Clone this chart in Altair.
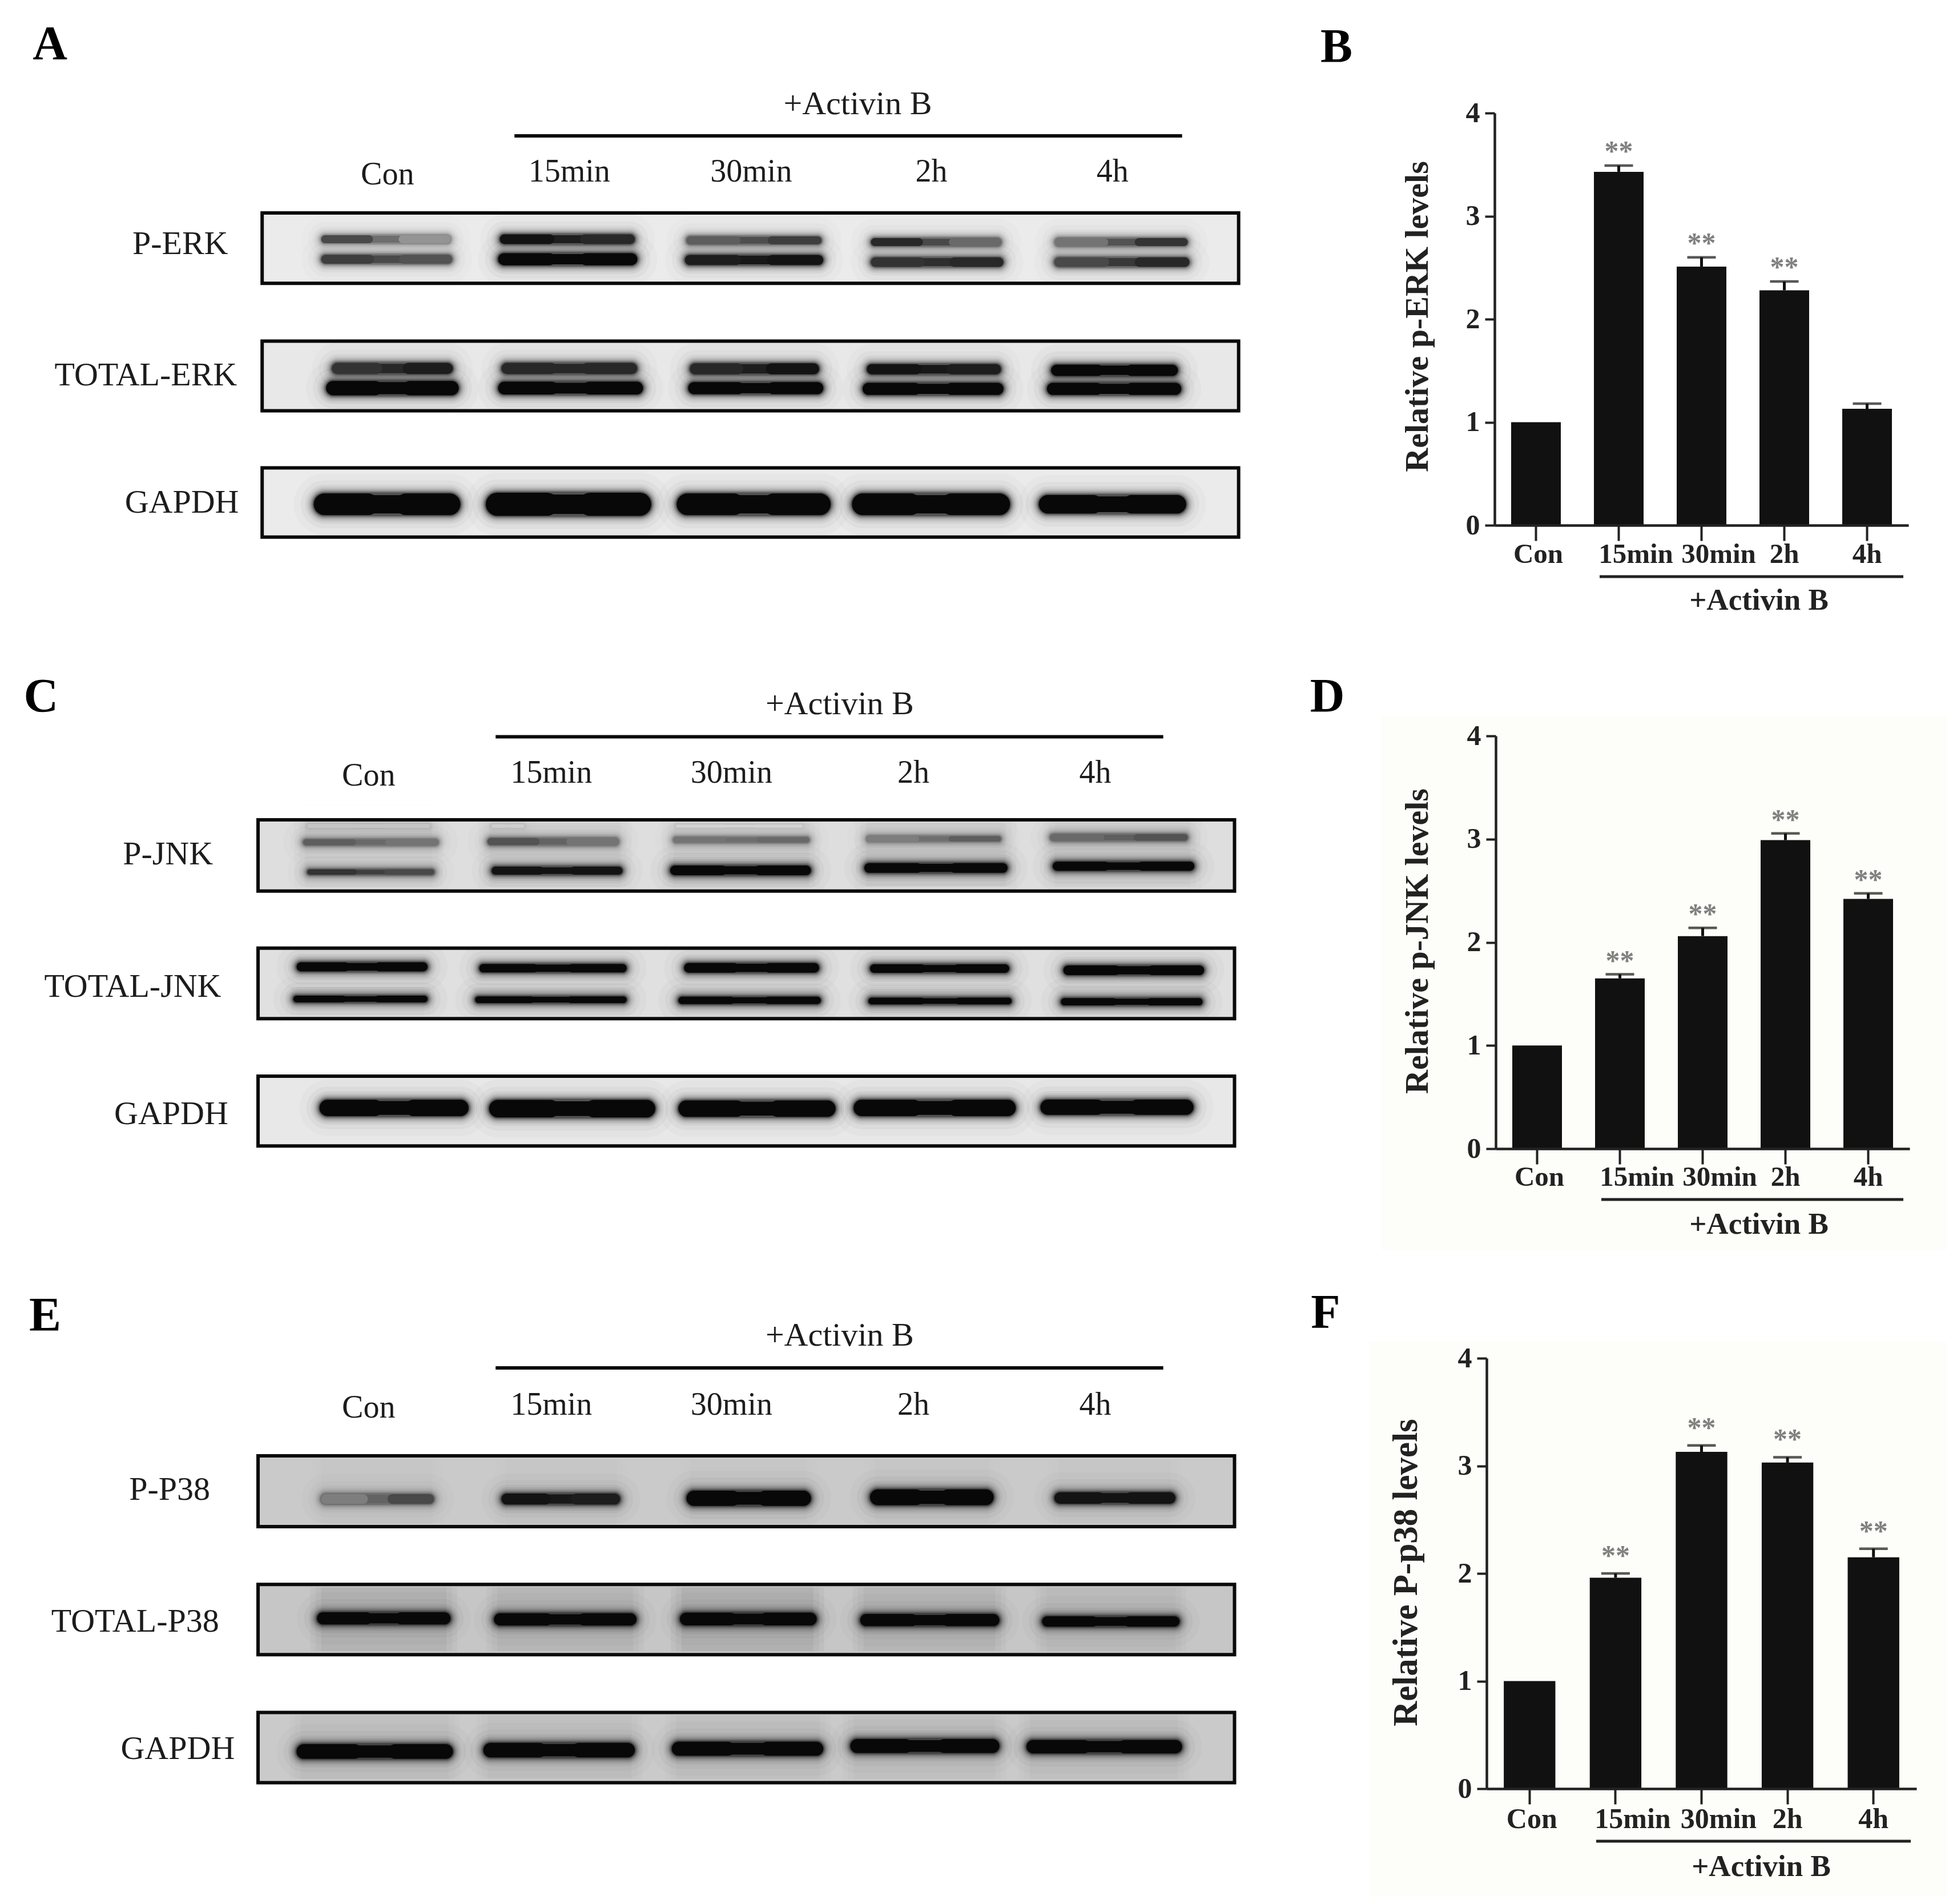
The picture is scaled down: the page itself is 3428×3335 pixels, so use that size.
import altair as alt
import pandas as pd

FONT = "Liberation Serif"
LANES = ["Con", "15min", "30min", "2h", "4h"]

# ---------- bar chart values ----------
B_MEAN = [1.0, 3.43, 2.51, 2.28, 1.13]
B_CAP = [1.0, 3.49, 2.60, 2.365, 1.18]
B_STAR = ["", "**", "**", "**", ""]
D_MEAN = [1.0, 1.65, 2.06, 2.99, 2.42]
D_CAP = [1.0, 1.69, 2.14, 3.055, 2.475]
D_STAR = ["", "**", "**", "**", "**"]
F_MEAN = [1.0, 1.96, 3.13, 3.03, 2.15]
F_CAP = [1.0, 2.0, 3.19, 3.08, 2.23]
F_STAR = ["", "**", "**", "**", "**"]
LABEL_SHIFT = [4, 30, 30, 0, 0]
TITLE_SIZE = [58, 58, 61]

# ---------- blot bands: left, right, centre y, thickness, left and right darkness ----------
A_PERK_UP = [(392,550,657,25,.7,.35),(610,775,657,30,.95,.85),(838,1003,660,25,.6,.75),(1063,1222,665,25,.85,.55),(1288,1450,665,25,.5,.8)]
A_PERK_LO = [(392,552,712,28,.75,.65),(608,778,712,38,1,1),(836,1005,714,32,.9,.95),(1063,1225,720,30,.8,.85),(1287,1452,720,30,.7,.85)]
A_TERK_UP = [(405,553,1012,35,.8,.9),(612,778,1012,35,.85,.85),(842,1000,1013,35,.85,.95),(1058,1222,1014,32,.95,.9),(1283,1438,1017,35,1,1)]
A_TERK_LO = [(398,560,1066,45,1,1),(608,785,1066,40,1,1),(840,1005,1066,38,1,1),(1053,1225,1068,38,1,1),(1278,1442,1068,38,1,1)]
A_GAPDH = [(383,562,1385,68,1,1),(593,795,1385,72,1,1),(826,1014,1385,68,1,1),(1040,1233,1385,68,1,1),(1268,1448,1385,58,1,1)]

C_PJNK_TOP = [(375,525,490,14,.12,.12),(600,640,490,12,.08,.08),(825,980,490,10,.05,.05)]
C_PJNK_UP = [(370,535,537,20,.6,.5),(595,755,535,24,.65,.5),(822,988,530,18,.5,.55),(1058,1222,527,18,.45,.6),(1282,1450,523,22,.55,.65)]
C_PJNK_LO = [(375,530,623,18,.8,.7),(600,760,619,26,.95,.95),(818,990,618,32,1,1),(1055,1230,611,32,1,1),(1285,1458,606,30,1,1)]
C_TJNK_UP = [(362,522,897,30,1,1),(585,765,901,28,1,1),(835,1000,900,32,1,1),(1062,1232,902,28,1,1),(1298,1470,907,32,1,1)]
C_TJNK_LO = [(358,522,990,22,1,1),(580,765,992,22,1,1),(828,1002,994,24,1,1),(1060,1235,996,22,1,1),(1295,1468,998,24,1,1)]
C_GAPDH = [(390,572,1305,54,1,1),(597,800,1307,58,1,1),(828,1020,1307,54,1,1),(1042,1240,1305,54,1,1),(1270,1457,1303,50,1,1)]

E_PP38 = [(392,530,620,32,.45,.7),(612,757,620,36,.95,.9),(838,990,618,50,1,1),(1062,1213,615,52,1,1),(1287,1435,617,38,.95,.95)]
E_TP38 = [(387,550,965,40,1,1),(603,777,968,40,1,1),(830,997,967,42,1,1),(1050,1220,970,40,1,1),(1272,1440,974,34,1,1)]
E_GAPDH = [(362,553,1350,48,1,1),(590,775,1346,48,1,1),(820,1005,1342,46,1,1),(1038,1220,1334,46,1,1),(1253,1443,1336,44,1,1)]

# lane smears: left, right, top, bottom, opacity
C_SMEAR = [(365,535,480,665,.035),(590,765,480,665,.035),(815,995,480,665,.035),(1050,1235,480,665,.05),(1280,1460,480,665,.04),
           (355,525,955,1035,.03),(578,770,955,1035,.03),(825,1005,955,1035,.03),(1055,1240,955,1035,.03),(1290,1472,955,1035,.03)]
E_SMEAR = [(385,552,875,1060,.09),(600,780,875,1060,.08),(825,1000,875,1060,.1),(1047,1222,875,1060,.08),(1270,1442,875,1060,.05),
           (360,555,1245,1430,.035),(588,778,1245,1430,.035),(818,1008,1245,1430,.035),(1035,1222,1245,1430,.035),(1250,1445,1245,1430,.035),
           (385,535,505,690,.015),(610,760,505,690,.015),(835,992,505,690,.015),(1060,1215,505,690,.015),(1285,1437,505,690,.015)]

# strips: top, bottom, background
A_STRIPS = [(585,778,"#ebebeb"),(937,1128,"#e8e8e8"),(1285,1475,"#ebebeb")]
C_STRIPS = [(472,678,"#dedede"),(843,1047,"#e0e0e0"),(1213,1415,"#e8e8e8")]
E_STRIPS = [(495,700,"#cacaca"),(867,1070,"#c6c6c6"),(1237,1440,"#cacaca")]
A_FRAME_X = (320, 1512)
CE_FRAME_X = (315, 1507)

# text: string, x centre, baseline y
A_LABELS = [("+Activin B",1047,313),("Con",473,507),("15min",695,498),("30min",917,498),("2h",1137,498),("4h",1358,498),
            ("P-ERK",220,698),("TOTAL-ERK",178,1058),("GAPDH",222,1408)]
C_LABELS = [("+Activin B",1025,167),("Con",450,373),("15min",673,365),("30min",893,365),("2h",1115,365),("4h",1337,365),
            ("P-JNK",205,601),("TOTAL-JNK",162,983),("GAPDH",209,1351)]
E_LABELS = [("+Activin B",1025,177),("Con",450,385),("15min",673,377),("30min",893,377),("2h",1115,377),("4h",1337,377),
            ("P-P38",207,622),("TOTAL-P38",165,1003),("GAPDH",217,1371)]

FX = 2250 / 1568
COL_X = [8, 2288]
COL_W = [2280, 1132]
ROW_Y = [8, 1130, 2230]
ROW_H = [1122, 1100, 1097]

# soft edge of a band: extra width in px, opacity
SOFT = [(70, .018), (46, .03), (30, .05), (22, .07), (16, .10), (11, .14), (7, .20), (3.5, .30)]


def grey(d):
    v = int(round(8 + (1 - d) * 215))
    return f"#{v:02x}{v:02x}{v:02x}"


def band_rows(bands, fy):
    rows = []
    for extra, alpha in SOFT:
        for xl, xr, y, t, dl, dr in bands:
            core = t * fy * .88
            capx = core / 2 / FX
            m = (dl + dr) / 2
            rows.append(dict(x=xl + capx, x2=xr - capx, y=y, w=core + extra, c="#000000", o=m * alpha))
    for xl, xr, y, t, dl, dr in bands:
        core = t * fy * .88
        capx = core / 2 / FX
        mid = (xl + xr) / 2
        gap = (xr - xl) * .13
        m = (dl + dr) / 2
        rows.append(dict(x=xl + capx, x2=xr - capx, y=y, w=core * .84, c=grey(m), o=1))
        rows.append(dict(x=xl + capx, x2=mid - gap, y=y, w=core, c=grey(dl), o=1))
        rows.append(dict(x=mid + gap, x2=xr - capx, y=y, w=core, c=grey(dr), o=1))
    return rows


def blot(letter, letter_xy, bands, smears, strips, frame_x, labels, rule, fy, zoom_y0, r):
    w, h = COL_W[0], ROW_H[r]
    top = ROW_Y[r]
    sx = alt.Scale(domain=[COL_X[0] / FX, (COL_X[0] + w) / FX], range=[0, w])
    sy = alt.Scale(domain=[(top - zoom_y0) / fy, (top + h - zoom_y0) / fy], range=[0, h])
    X = alt.X("x:Q", scale=sx, axis=None, title=None)
    Y = alt.Y("y:Q", scale=sy, axis=None, title=None)
    sdf = pd.DataFrame([dict(x=frame_x[0], x2=frame_x[1], y=a, y2=b, c=c) for a, b, c in strips])
    layers = [
        alt.Chart(sdf).mark_rect().encode(X, Y, x2="x2:Q", y2="y2:Q", fill=alt.Fill("c:N", scale=None))
    ]
    if smears:
        rows = []
        for a, b, c, d, e in smears:
            for inset, frac in [(-6, .3), (0, .3), (7, .4)]:
                rows.append(dict(x=a + inset, x2=b - inset, y=c, y2=d, o=e * frac))
        mdf = pd.DataFrame(rows)
        layers.append(alt.Chart(mdf).mark_rect(color="#000000").encode(
            X, Y, x2="x2:Q", y2="y2:Q", opacity=alt.Opacity("o:Q", scale=None)))
    bdf = pd.DataFrame(band_rows(bands, fy))
    layers.append(alt.Chart(bdf).mark_rule(strokeCap="round").encode(
        X, Y, x2="x2:Q",
        color=alt.Color("c:N", scale=None),
        strokeWidth=alt.StrokeWidth("w:Q", scale=None),
        opacity=alt.Opacity("o:Q", scale=None)))
    # white mask keeps the soft edges inside each strip
    gaps = [(strips[i][1], strips[i + 1][0]) for i in range(len(strips) - 1)]
    gaps += [(strips[-1][1], strips[-1][1] + 40), (strips[0][0] - 40, strips[0][0])]
    gdf = pd.DataFrame([dict(x=frame_x[0] - 20, x2=frame_x[1] + 20, y=a, y2=b) for a, b in gaps])
    layers.append(alt.Chart(gdf).mark_rect(color="#ffffff").encode(X, Y, x2="x2:Q", y2="y2:Q"))
    layers.append(alt.Chart(sdf).mark_rect(fill=None, stroke="#0a0a0a", strokeWidth=6).encode(
        X, Y, x2="x2:Q", y2="y2:Q"))
    rdf = pd.DataFrame([dict(x=rule[0], x2=rule[1], y=rule[2])])
    layers.append(alt.Chart(rdf).mark_rule(color="#0a0a0a", strokeWidth=6).encode(X, Y, x2="x2:Q"))
    tdf = pd.DataFrame([dict(t=a, x=b, y=c, fs=56 if a in LANES else 58) for a, b, c in labels])
    layers.append(alt.Chart(tdf).mark_text(font=FONT, color="#1c1c1c", baseline="alphabetic", align="center").encode(
        X, Y, text="t:N", size=alt.Size("fs:Q", scale=None)))
    ldf = pd.DataFrame([dict(t=letter, x=letter_xy[0], y=letter_xy[1])])
    layers.append(alt.Chart(ldf).mark_text(font=FONT, fontSize=84, fontWeight="bold", color="#000000",
                                           baseline="alphabetic", align="center").encode(X, Y, text="t:N"))
    return alt.layer(*layers).properties(width=w, height=h)


def bars(letter, letter_xy, mean, cap, star, ylabel, title_xy, x_rng, y_rng, under, act_xy, tick_size, label_y, cream, star_dy, r):
    w, h = COL_W[1], ROW_H[r]
    cx, cy = COL_X[1], ROW_Y[r]
    df = pd.DataFrame(dict(lane=LANES, mean=mean, cap=cap, star=star, shift=LABEL_SHIFT))
    sx = alt.Scale(domain=LANES, range=[x_rng[0] - cx, x_rng[1] - cx], paddingInner=.4, paddingOuter=.2)
    sy = alt.Scale(domain=[0, 4], range=[y_rng[0] - cy, y_rng[1] - cy], nice=False, zero=True)
    x_axis = alt.Axis(
        orient="bottom", offset=-(h - (y_rng[0] - cy)), zindex=1, labels=False,
        tickSize=27, tickWidth=4, tickColor="#222222", domainWidth=4.5, domainColor="#222222", grid=False)
    y_axis = alt.Axis(
        orient="left", offset=-(x_rng[0] - cx), zindex=1, values=[0, 1, 2, 3, 4], format="d", labelFont=FONT, labelFontWeight="bold",
        labelFontSize=50, labelColor="#222222", labelPadding=9, tickSize=17, tickWidth=4, tickColor="#222222",
        domainWidth=4.5, domainColor="#222222", grid=False, titleFont=FONT, titleFontWeight="bold", titleFontSize=TITLE_SIZE[r],
        titleColor="#222222", titleAngle=-90, titleAlign="center", titleBaseline="alphabetic",
        titleX=title_xy[0] - x_rng[0], titleY=title_xy[1] - cy)
    X = alt.X("lane:N", scale=sx, sort=LANES, title=None, axis=x_axis)
    Ya = alt.Y("mean:Q", scale=sy, title=ylabel, axis=y_axis)
    Yc = alt.Y("cap:Q", scale=sy, title=ylabel, axis=y_axis)
    layers = []
    if cream:
        layers.append(alt.Chart(pd.DataFrame({"a": [0]})).mark_rect(color="#fdfdf9").encode(
            x=alt.value(cream[0] - cx), x2=alt.value(cream[1] - cx), y=alt.value(cream[2] - cy), y2=alt.value(cream[3] - cy)))
    layers.append(alt.Chart(df).mark_bar(color="#111111").encode(X, Ya))
    layers.append(alt.Chart(df).mark_rule(color="#111111", strokeWidth=5).encode(X, y=Yc, y2="mean:Q"))
    layers.append(alt.Chart(df[df["cap"] > df["mean"]]).mark_tick(color="#111111", thickness=4.5, size=50).encode(X, y=Yc))
    layers.append(alt.Chart(df[df["star"] != ""]).mark_text(font=FONT, fontWeight="bold", fontSize=50, color="#808080",
                                                           baseline="alphabetic", dy=star_dy).encode(X, y=Yc, text="star:N"))
    # category labels sit beside their ticks in the original, so each shift gets its own text layer
    for s in sorted(set(LABEL_SHIFT)):
        layers.append(alt.Chart(df[df["shift"] == s]).mark_text(font=FONT, fontWeight="bold", fontSize=tick_size, color="#222222",
                                                               baseline="alphabetic", align="center", dx=s).encode(
            X, y=alt.value(label_y - cy), text="lane:N"))
    layers.append(alt.Chart(pd.DataFrame({"a": [0]})).mark_rule(color="#222222", strokeWidth=5).encode(
        x=alt.value(under[0] - cx), x2=alt.value(under[1] - cx), y=alt.value(under[2] - cy)))
    layers.append(alt.Chart(pd.DataFrame({"t": ["+Activin B"]})).mark_text(font=FONT, fontWeight="bold", fontSize=53, color="#222222",
                                                                          baseline="alphabetic", align="center").encode(
        x=alt.value(act_xy[0] - cx), y=alt.value(act_xy[1] - cy), text="t:N"))
    layers.append(alt.Chart(pd.DataFrame({"t": [letter]})).mark_text(font=FONT, fontWeight="bold", fontSize=84, color="#000000",
                                                                    baseline="alphabetic", align="center").encode(
        x=alt.value(letter_xy[0] - cx), y=alt.value(letter_xy[1] - cy), text="t:N"))
    return alt.layer(*layers).properties(width=w, height=h)


FY_A = 1000 / 1568
FY_CE = 950 / 1568

panel_a = blot("A", (61, 163), A_PERK_UP + A_PERK_LO + A_TERK_UP + A_TERK_LO + A_GAPDH, None, A_STRIPS, A_FRAME_X,
               A_LABELS, (628, 1443, 373), FY_A, 0, 0)
panel_c = blot("C", (50, 160), C_PJNK_TOP + C_PJNK_UP + C_PJNK_LO + C_TJNK_UP + C_TJNK_LO + C_GAPDH, C_SMEAR, C_STRIPS, CE_FRAME_X,
               C_LABELS, (605, 1420, 232), FY_CE, 1150, 1)
panel_e = blot("E", (55, 133), E_PP38 + E_TP38 + E_GAPDH, E_SMEAR, E_STRIPS, CE_FRAME_X,
               E_LABELS, (605, 1420, 241), FY_CE, 2250, 2)

panel_b = bars("B", (2341, 109), B_MEAN, B_CAP, B_STAR, "Relative p-ERK levels", (2500, 554),
               (2618, 3343), (920, 198), (2802, 3334, 1010), (3081, 1068), 49, 986, None, -9, 0)
panel_d = bars("D", (2325, 1247), D_MEAN, D_CAP, D_STAR, "Relative p-JNK levels", (2500, 1648),
               (2620, 3345), (2012, 1289), (2805, 3334, 2101), (3081, 2161), 49, 2077, (2420, 3410, 1254, 2190), -8, 1)
panel_f = bars("F", (2322, 2326), F_MEAN, F_CAP, F_STAR, "Relative P-p38 levels", (2481, 2754),
               (2604, 3357), (3133, 2379), (2796, 3347, 3225), (3085, 3286), 50, 3202, (2400, 3410, 2350, 3320), -15, 2)

rows = [alt.hconcat(a, b, spacing=0) for a, b in [(panel_a, panel_b), (panel_c, panel_d), (panel_e, panel_f)]]
chart = alt.vconcat(*rows, spacing=0).properties(padding=0, background="#ffffff").configure_view(stroke=None)
chart.save("out.html", embed_options={"renderer": "svg", "actions": False})
